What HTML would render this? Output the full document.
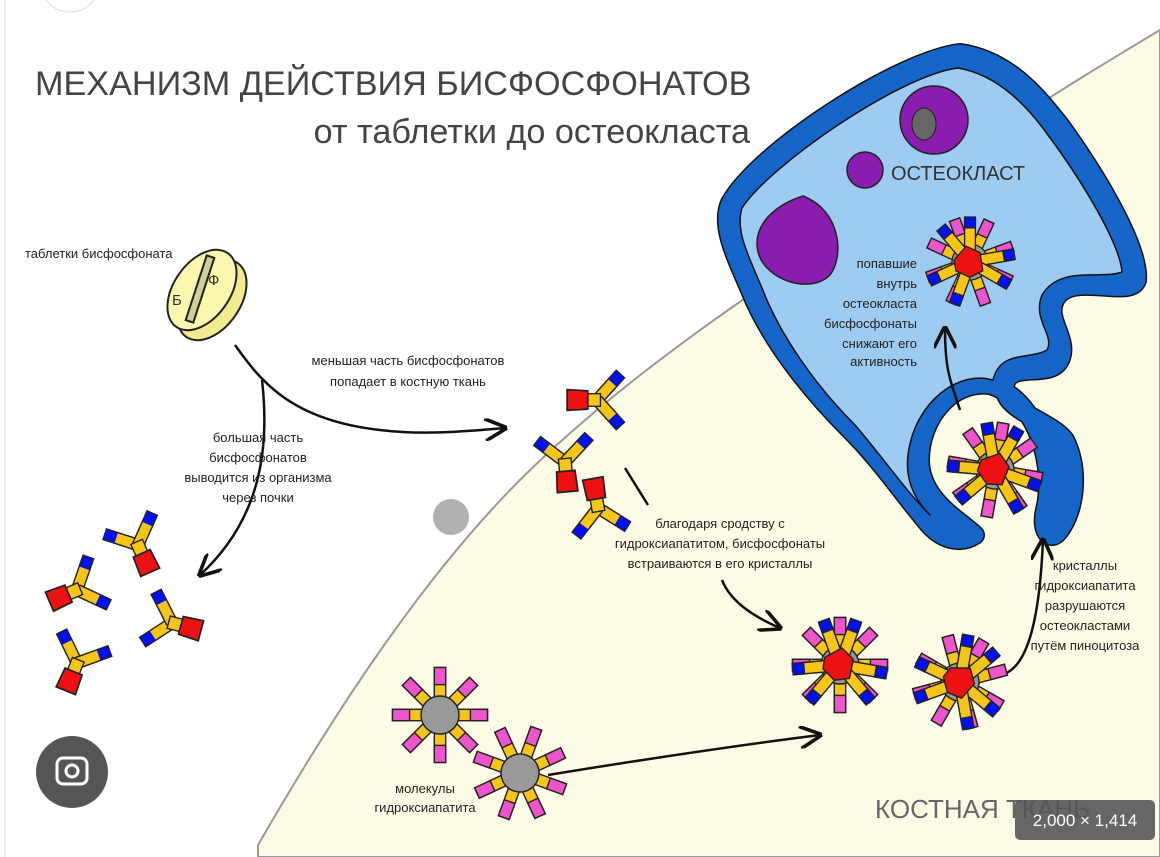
<!DOCTYPE html>
<html><head><meta charset="utf-8"><style>
html,body{margin:0;padding:0;background:#fff}
svg{display:block}
text{font-family:"Liberation Sans",sans-serif;fill:#222}
</style></head><body>
<svg width="1160" height="857" viewBox="0 0 1160 857" xmlns="http://www.w3.org/2000/svg">
<defs>
<path id="oc" d="M730,203 C760,150 900,60 960,53 C1010,60 1040,100 1060,125 C1100,180 1140,250 1137,280 C1130,300 1070,270 1055,300 C1045,320 1070,340 1060,360 C1050,380 1010,360 1005,385 C1000,410 1050,420 1065,440 C1080,470 1075,510 1060,530 C1050,545 1040,530 1045,510 C1055,470 1040,400 990,385 C950,380 920,420 920,460 C920,500 960,520 975,535 C960,545 940,540 925,520 C900,490 880,460 850,430 C810,390 770,340 750,290 C735,255 720,225 730,203 Z"/>
<g id="yarm">
 <line x1="0" y1="0" x2="0" y2="-31" stroke="#222" stroke-width="11"/>
 <line x1="0" y1="0" x2="0" y2="-20" stroke="#f5c518" stroke-width="8.5"/>
 <line x1="0" y1="-20" x2="0" y2="-30" stroke="#0010ee" stroke-width="8.5"/>
</g>
<g id="ym">
 <use href="#yarm" transform="rotate(-48)"/>
 <use href="#yarm" transform="rotate(48)"/>
 <rect x="-5.5" y="-3" width="11" height="12" fill="#f5c518" stroke="#222" stroke-width="1.2"/>
 <polygon points="-8,8 8,8 9,26 -9,26" fill="#ee1111" stroke="#222" stroke-width="1.5"/>
</g>
<g id="arm"><rect x="-6" y="-50" width="12" height="50" fill="#f5c518"/><rect x="-6" y="-50" width="12" height="18" fill="#ee55cc"/></g>
<g id="st" stroke="#222" stroke-width="1.5">
 <use href="#arm"/><use href="#arm" transform="rotate(45)"/><use href="#arm" transform="rotate(90)"/><use href="#arm" transform="rotate(135)"/>
 <use href="#arm" transform="rotate(180)"/><use href="#arm" transform="rotate(225)"/><use href="#arm" transform="rotate(270)"/><use href="#arm" transform="rotate(315)"/>
 <circle r="20" fill="#999"/>
</g>
<g id="barm"><rect x="-6" y="-48" width="12" height="36" fill="#f5c518"/><rect x="-6" y="-50" width="12" height="12" fill="#0010ee"/></g>
<g id="em" stroke="#222" stroke-width="1.5">
 <use href="#st"/>
 <use href="#barm" transform="rotate(20)"/><use href="#barm" transform="rotate(-20)"/>
 <use href="#barm" transform="rotate(100)"/><use href="#barm" transform="rotate(140)"/>
 <use href="#barm" transform="rotate(220)"/><use href="#barm" transform="rotate(265)"/>
 <polygon points="-16,-8 2,-18 14,-6 10,14 -6,16 -18,4" fill="#ee1111"/>
</g>
<marker id="ah" viewBox="0 0 10 10" refX="9" refY="5" markerWidth="9" markerHeight="9" orient="auto"><path d="M0,0 L10,5 L0,10" fill="none" stroke="#111" stroke-width="1.6"/></marker>
</defs>
<rect width="1160" height="857" fill="#fff"/>
<line x1="5" y1="0" x2="5" y2="857" stroke="#ddd" stroke-width="1"/>
<circle cx="70" cy="-18" r="30" fill="#fff" stroke="#ddd"/>
<!-- bone -->
<path d="M258,845 C330,720 420,580 520,480 C640,360 800,260 1000,130 C1060,90 1110,60 1160,30 L1160,857 L258,857 Z" fill="#fcfce6" stroke="#999" stroke-width="2"/>
<circle cx="451" cy="517" r="18" fill="#b0b0b0"/>
<!-- osteoclast -->
<g stroke-linejoin="round">
<use href="#oc" fill="#1565c9" stroke="#111" stroke-width="20"/>
<use href="#oc" fill="#1565c9" stroke="#1565c9" stroke-width="17"/>
<path d="M742,208 C770,165 900,75 958,68 C1000,75 1030,110 1048,135 C1085,185 1120,245 1122,272 C1100,280 1060,265 1042,295 C1032,320 1055,335 1047,350 C1030,360 1000,350 993,380 C960,370 915,400 908,455 C905,480 915,500 930,515 C905,490 885,460 855,425 C815,385 780,335 762,288 C748,255 735,230 742,208 Z" fill="#9ecbf1" stroke="#111" stroke-width="1.5"/>
</g>
<circle cx="934" cy="120" r="34" fill="#8a1db0" stroke="#222" stroke-width="1.5"/>
<ellipse cx="924" cy="124" rx="12" ry="16" fill="#666" stroke="#222"/>
<circle cx="865" cy="170" r="18" fill="#8a1db0" stroke="#222" stroke-width="1.5"/>
<path d="M803,196 C840,210 845,255 830,275 C810,295 765,280 758,252 C752,225 775,205 803,196 Z" fill="#8a1db0" stroke="#222" stroke-width="1.5"/>
<text x="891" y="180" font-size="20" style="fill:#333">ОСТЕОКЛАСТ</text>
<g font-size="13" text-anchor="end">
<text x="917" y="268">попавшие</text><text x="917" y="288">внутрь</text><text x="917" y="308">остеокласта</text><text x="917" y="328">бисфосфонаты</text><text x="917" y="348">снижают его</text><text x="917" y="366">активность</text>
</g>
<!-- title -->
<text x="35" y="95" font-size="34.2" style="fill:#444">МЕХАНИЗМ ДЕЙСТВИЯ БИСФОСФОНАТОВ</text>
<text x="750" y="143" font-size="34.2" text-anchor="end" style="fill:#444">от таблетки до остеокласта</text>
<!-- pill -->
<text x="25" y="258" font-size="13">таблетки бисфосфоната</text>
<g stroke="#222" stroke-width="2">
<ellipse cx="212" cy="300" rx="45" ry="28" transform="rotate(-55 212 300)" fill="#f2ec90"/>
<ellipse cx="202" cy="290" rx="45" ry="28" transform="rotate(-55 202 290)" fill="#fbf7ae"/>
<rect x="196" y="255" width="8" height="68" transform="rotate(18 200 289)" fill="#cfcf9a"/>
</g>
<text x="172" y="305" font-size="15" style="fill:#333">Б</text><text x="208" y="285" font-size="15" style="fill:#333">Ф</text>
<!-- arrows -->
<g fill="none" stroke="#111" stroke-width="2.5" marker-end="url(#ah)">
<path d="M235,345 C260,380 290,420 380,430 C420,435 460,432 505,428"/>
<path d="M262,380 C270,450 260,520 200,575"/>
<path d="M722,580 C730,600 750,615 780,628"/>
<path d="M548,775 C640,760 740,745 820,735"/>
<path d="M1000,675 C1030,670 1040,610 1043,540"/>
<path d="M960,410 C950,380 945,370 945,328"/>
</g>
<line x1="625" y1="468" x2="648" y2="505" stroke="#111" stroke-width="2.5"/>
<g font-size="13" text-anchor="middle">
<text x="408" y="365">меньшая часть бисфосфонатов</text><text x="408" y="386">попадает в костную ткань</text>
<text x="258" y="442">большая часть</text><text x="258" y="462">бисфосфонатов</text><text x="258" y="482">выводится из организма</text><text x="258" y="502">через почки</text>
<text x="720" y="528">благодаря сродству с</text><text x="720" y="548">гидроксиапатитом, бисфосфонаты</text><text x="720" y="568">встраиваются в его кристаллы</text>
<text x="1085" y="570">кристаллы</text><text x="1085" y="590">гидроксиапатита</text><text x="1085" y="610">разрушаются</text><text x="1085" y="630">остеокластами</text><text x="1085" y="650">путём пиноцитоза</text>
<text x="425" y="793">молекулы</text><text x="425" y="812">гидроксиапатита</text>
</g>
<!-- molecules -->
<use href="#ym" transform="translate(138,545) rotate(-24) scale(1.15)"/>
<use href="#ym" transform="translate(77,590) rotate(67) scale(1.15)"/>
<use href="#ym" transform="translate(172,623) rotate(-75) scale(1.15)"/>
<use href="#ym" transform="translate(77,663) rotate(22) scale(1.15)"/>
<use href="#ym" transform="translate(597,400) rotate(90) scale(1.15)"/>
<use href="#ym" transform="translate(565,462) rotate(-5) scale(1.15)"/>
<use href="#ym" transform="translate(598,508) rotate(170) scale(1.15)"/>
<use href="#st" transform="translate(440,715) scale(0.95)"/>
<use href="#st" transform="translate(520,773) scale(0.95) rotate(20)"/>
<use href="#em" transform="translate(840,665) scale(0.95)"/>
<use href="#em" transform="translate(960,682) scale(0.95) rotate(30)"/>
<use href="#em" transform="translate(995,470) scale(0.95) rotate(10)"/>
<use href="#em" transform="translate(970,262) scale(0.9) rotate(-20)"/>
<text x="875" y="818" font-size="26" style="fill:#666">КОСТНАЯ ТКАНЬ</text>
<rect x="1015" y="800" width="140" height="40" rx="5" fill="#555" opacity="0.9"/>
<text x="1085" y="826" font-size="17" text-anchor="middle" style="fill:#fff">2,000 × 1,414</text>
<circle cx="72" cy="772" r="36" fill="#555"/>
<rect x="57" y="758" width="30" height="26" rx="6" fill="none" stroke="#fff" stroke-width="3"/>
<circle cx="72" cy="771" r="6" fill="none" stroke="#fff" stroke-width="3"/>
</svg>
</body></html>
